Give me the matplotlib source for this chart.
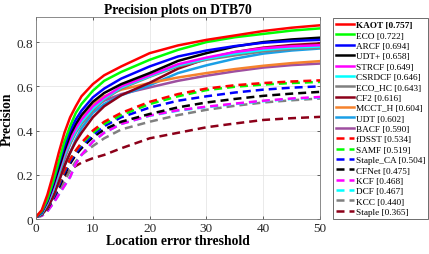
import matplotlib
matplotlib.use("Agg")
import matplotlib.pyplot as plt

plt.rcParams['font.family'] = ['Liberation Serif', 'DejaVu Serif']

# 閾値 (location error threshold)
thresholds = [0, 1, 2, 3, 4, 5, 6, 7, 8, 10, 12, 15, 20, 25, 30, 35, 40, 45, 50]

trackers = ["KAOT", "ECO", "ARCF", "UDT+", "STRCF", "CSRDCF", "ECO_HC", "CF2",
            "MCCT_H", "UDT", "BACF", "fDSST", "SAMF", "Staple_CA", "CFNet",
            "KCF", "DCF", "KCC", "Staple"]
scores = [0.757, 0.722, 0.694, 0.658, 0.649, 0.646, 0.643, 0.616, 0.604, 0.602,
          0.590, 0.534, 0.519, 0.504, 0.475, 0.468, 0.467, 0.440, 0.365]

kaot = [0.01, 0.04, 0.11, 0.20, 0.30, 0.39, 0.46, 0.51, 0.555, 0.61, 0.65, 0.69, 0.75, 0.785, 0.81, 0.83, 0.85, 0.865, 0.876]
eco = [0.01, 0.035, 0.09, 0.17, 0.26, 0.35, 0.42, 0.48, 0.52, 0.58, 0.625, 0.665, 0.72, 0.765, 0.80, 0.822, 0.837, 0.852, 0.862]
arcf = [0.01, 0.03, 0.085, 0.16, 0.25, 0.33, 0.40, 0.45, 0.49, 0.55, 0.59, 0.635, 0.69, 0.735, 0.762, 0.782, 0.797, 0.805, 0.81]
udt_plus = [0.01, 0.03, 0.08, 0.15, 0.23, 0.31, 0.38, 0.43, 0.47, 0.53, 0.57, 0.61, 0.66, 0.715, 0.75, 0.78, 0.80, 0.812, 0.82]
strcf = [0.01, 0.03, 0.075, 0.14, 0.22, 0.30, 0.36, 0.41, 0.45, 0.51, 0.55, 0.60, 0.65, 0.70, 0.73, 0.755, 0.772, 0.781, 0.786]
csrdcf = [0.01, 0.025, 0.07, 0.13, 0.21, 0.29, 0.35, 0.40, 0.44, 0.50, 0.545, 0.595, 0.646, 0.695, 0.725, 0.748, 0.765, 0.775, 0.78]
eco_hc = [0.01, 0.025, 0.07, 0.13, 0.20, 0.28, 0.34, 0.39, 0.43, 0.49, 0.54, 0.59, 0.643, 0.69, 0.72, 0.74, 0.758, 0.768, 0.775]
cf2 = [0.01, 0.02, 0.05, 0.10, 0.17, 0.24, 0.30, 0.35, 0.39, 0.46, 0.51, 0.56, 0.616, 0.68, 0.725, 0.755, 0.775, 0.787, 0.794]
mcct_h = [0.01, 0.025, 0.07, 0.13, 0.21, 0.29, 0.36, 0.42, 0.46, 0.52, 0.555, 0.585, 0.615, 0.64, 0.66, 0.678, 0.693, 0.705, 0.714]
udt = [0.01, 0.02, 0.05, 0.10, 0.17, 0.24, 0.30, 0.36, 0.41, 0.48, 0.52, 0.56, 0.605, 0.66, 0.695, 0.725, 0.748, 0.762, 0.771]
bacf = [0.01, 0.02, 0.06, 0.12, 0.19, 0.27, 0.34, 0.40, 0.44, 0.50, 0.535, 0.565, 0.595, 0.625, 0.648, 0.668, 0.685, 0.696, 0.703]
fdsst = [0.01, 0.02, 0.05, 0.10, 0.16, 0.22, 0.27, 0.31, 0.345, 0.40, 0.44, 0.48, 0.53, 0.565, 0.59, 0.605, 0.615, 0.622, 0.627]
samf = [0.01, 0.02, 0.05, 0.10, 0.16, 0.22, 0.27, 0.31, 0.34, 0.39, 0.43, 0.47, 0.52, 0.555, 0.583, 0.598, 0.608, 0.615, 0.62]
staple_ca = [0.01, 0.02, 0.05, 0.09, 0.15, 0.21, 0.26, 0.30, 0.33, 0.38, 0.42, 0.46, 0.504, 0.535, 0.555, 0.572, 0.585, 0.594, 0.60]
cfnet = [0.01, 0.02, 0.045, 0.09, 0.14, 0.20, 0.25, 0.29, 0.32, 0.37, 0.405, 0.44, 0.475, 0.505, 0.527, 0.543, 0.557, 0.567, 0.575]
kcf = [0.01, 0.015, 0.035, 0.07, 0.11, 0.15, 0.19, 0.25, 0.29, 0.35, 0.39, 0.43, 0.468, 0.492, 0.508, 0.522, 0.535, 0.545, 0.552]
dcf = [0.01, 0.015, 0.035, 0.07, 0.11, 0.15, 0.19, 0.25, 0.29, 0.35, 0.39, 0.43, 0.467, 0.49, 0.506, 0.52, 0.533, 0.543, 0.55]
kcc = [0.01, 0.015, 0.04, 0.08, 0.12, 0.17, 0.22, 0.26, 0.29, 0.33, 0.365, 0.405, 0.44, 0.47, 0.494, 0.512, 0.527, 0.537, 0.545]
staple = [0.01, 0.015, 0.04, 0.08, 0.13, 0.19, 0.22, 0.24, 0.255, 0.275, 0.29, 0.32, 0.365, 0.39, 0.415, 0.432, 0.448, 0.456, 0.462]

curves = [kaot, eco, arcf, udt_plus, strcf, csrdcf, eco_hc, cf2, mcct_h, udt, bacf,
          fdsst, samf, staple_ca, cfnet, kcf, dcf, kcc, staple]

colors = ["#ff0000", "#00ff00", "#0000ff", "#000000", "#ff00ff", "#00ffff", "#808080",
          "#8c0019", "#f5822d", "#1a9fe6", "#9e4fa0",
          "#ff0000", "#00ff00", "#0000ff", "#000000", "#ff00ff", "#00ffff", "#808080",
          "#8c0019"]
dashed = [False] * 11 + [True] * 8

fig = plt.figure(figsize=(4.29, 2.55), dpi=100)
ax = fig.add_axes([0.084, 0.137, 0.662, 0.792])

lines = [None] * len(trackers)
# 逆順に描画して上位のトラッカーを前面に
for i in reversed(range(len(trackers))):
    ls = (0, (3.2, 2.0)) if dashed[i] else "-"
    lines[i], = ax.plot(thresholds, curves[i], color=colors[i], lw=1.8, ls=ls)

ax.set_xlim(0, 50)
ax.set_ylim(0, 0.913)
ax.set_xticks([0, 10, 20, 30, 40, 50])
ax.set_yticks([0, 0.2, 0.4, 0.6, 0.8])
ax.set_yticklabels(["0", "0.2", "0.4", "0.6", "0.8"])
ax.grid(True, color="#e6e6e6", lw=0.6)
ax.set_axisbelow(True)
ax.tick_params(direction="in", top=True, right=True, labelsize=9.5, length=2.5,
               width=0.5, colors="#262626", pad=2)
for s in ax.spines.values():
    s.set_color("#777777")
    s.set_linewidth(0.6)

ax.set_title("Precision plots on DTB70", fontsize=9.8, fontweight="bold", pad=3)
ax.set_xlabel("Location error threshold", fontsize=9.8, fontweight="bold", labelpad=0)
ax.set_ylabel("Precision", fontsize=9.8, fontweight="bold")
ax.yaxis.set_label_coords(-0.077, 0.5)

labels = ["%s [%.3f]" % (t, s) for t, s in zip(trackers, scores)]
leg = ax.legend(lines, labels, loc="upper left", bbox_to_anchor=(333 / 429, 1 - 19 / 255),
                bbox_transform=fig.transFigure, fontsize=6.7, labelspacing=0.2,
                handlelength=2.0, handletextpad=0.15, borderpad=0.3, borderaxespad=0,
                fancybox=False, framealpha=1)
leg.get_frame().set_edgecolor("#555555")
leg.get_frame().set_linewidth(0.6)
leg.get_texts()[0].set_fontweight("bold")

plt.savefig("out.png", dpi=100)
plt.close()
